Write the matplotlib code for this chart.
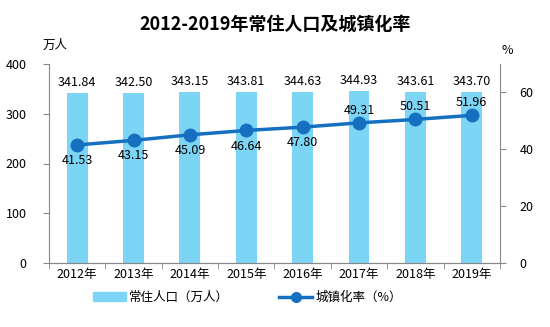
import matplotlib.pyplot as plt
from matplotlib.lines import Line2D
from matplotlib.patches import Patch

plt.rcParams['font.family'] = ['Noto Sans CJK SC', 'DejaVu Sans']

years = ['2012年', '2013年', '2014年', '2015年', '2016年', '2017年', '2018年', '2019年']
population = [341.84, 342.50, 343.15, 343.81, 344.63, 344.93, 343.61, 343.70]
urban_rate = [41.53, 43.15, 45.09, 46.64, 47.80, 49.31, 50.51, 51.96]

bar_color = '#7DD5F5'
line_color = '#1570C0'
axis_color = '#888888'

fig = plt.figure(figsize=(5.5, 3.27), dpi=100)
ax = fig.add_axes([0.089, 0.196, 0.82, 0.608])
ax2 = ax.twinx()

x = list(range(len(years)))
ax.bar(x, population, width=0.37, color=bar_color, zorder=1)
ax.set_ylim(0, 400)
ax.set_xlim(-0.5, len(years) - 0.5)
ax.set_yticks([0, 100, 200, 300, 400])
ax.set_xticks(x)
ax.set_xticklabels(years, fontsize=9)
for i, v in enumerate(population):
    ax.text(i, v + 8, f'{v:.2f}', ha='center', va='bottom', fontsize=9)

ax2.plot(x, urban_rate, color=line_color, lw=2.5, marker='o', ms=9, zorder=3)
ax2.set_ylim(0, 70)
ax2.set_yticks([0, 20, 40, 60])
for i, v in enumerate(urban_rate):
    if i < 5:
        ax2.text(i, v - 3.2, f'{v:.2f}', ha='center', va='top', fontsize=9)
    else:
        ax2.text(i, v + 2.2, f'{v:.2f}', ha='center', va='bottom', fontsize=9)

for a in (ax, ax2):
    for s in a.spines.values():
        s.set_color(axis_color)
    a.spines['top'].set_visible(False)
    a.tick_params(colors=axis_color, labelcolor='black', labelsize=9, length=4)
ax.spines['right'].set_visible(False)
ax2.spines['left'].set_visible(False)
ax.tick_params(axis='y', pad=12)
ax2.tick_params(axis='y', pad=10)
ax.set_zorder(ax2.get_zorder() - 1)
ax2.patch.set_visible(False)
ax.patch.set_visible(False)

# tick marks on the category boundaries
ax.set_xticks([i - 0.5 for i in range(len(years) + 1)], minor=True)
ax.tick_params(axis='x', which='major', length=0)
ax.tick_params(axis='x', which='minor', length=4, color=axis_color)

fig.text(0.077, 0.86, '万人', fontsize=9, ha='left', va='center')
fig.text(0.912, 0.845, '%', fontsize=9, ha='left', va='center')

fig.suptitle('2012-2019年常住人口及城镇化率', y=0.955, fontsize=13, fontweight='bold')

handles = [Patch(color=bar_color), Line2D([0], [0], color=line_color, lw=2.5, marker='o', ms=7)]
fig.legend(handles, ['常住人口（万人）', '城镇化率（%）'], loc='center', bbox_to_anchor=(0.45, 0.09),
           ncol=2, frameon=False, fontsize=9, columnspacing=4, handlelength=2.6, handletextpad=0.3)

fig.savefig('out.png', dpi=100)
